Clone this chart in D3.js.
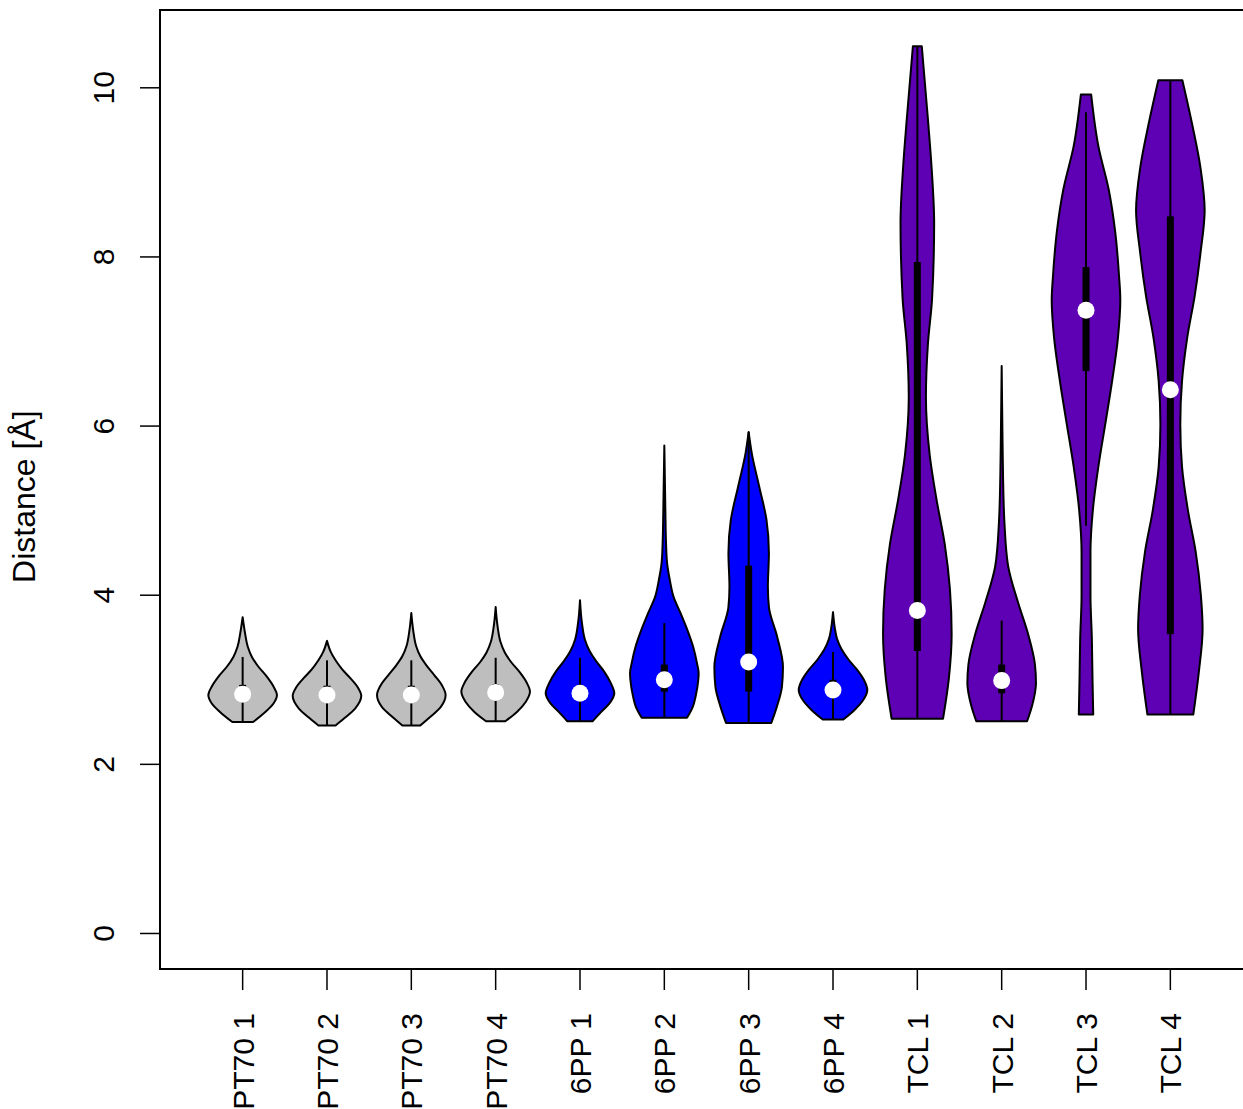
<!DOCTYPE html>
<html>
<head>
<meta charset="utf-8">
<script src="https://cdn.jsdelivr.net/npm/d3@7"></script>
<style>
  body { margin: 0; background: #fff; }
  text { font-family: "Liberation Sans", Arial, sans-serif; fill: #000; }
</style>
</head>
<body>
<div id="chart-area"></div>
<script>
// categories
const labels = ["PT70 1", "PT70 2", "PT70 3", "PT70 4", "6PP 1", "6PP 2", "6PP 3", "6PP 4", "TCL 1", "TCL 2", "TCL 3", "TCL 4"]
const groups = ["PT70", "PT70", "PT70", "PT70", "6PP", "6PP", "6PP", "6PP", "TCL", "TCL", "TCL", "TCL"]
const yTicks = [0, 2, 4, 6, 8, 10]

// density profiles: [distance, relative density]
const pt70_1 = [[2.50, 0.30], [2.62, 0.66], [2.72, 0.90], [2.82, 1.0], [2.92, 0.90], [3.04, 0.70], [3.16, 0.45], [3.27, 0.27], [3.39, 0.15], [3.55, 0.07], [3.74, 0]]
const pt70_2 = [[2.46, 0.25], [2.55, 0.52], [2.66, 0.82], [2.81, 1.0], [2.91, 0.90], [3.02, 0.68], [3.12, 0.45], [3.23, 0.25], [3.33, 0.11], [3.46, 0]]
const pt70_3 = [[2.46, 0.26], [2.56, 0.55], [2.68, 0.86], [2.82, 1.0], [2.93, 0.90], [3.05, 0.68], [3.17, 0.44], [3.28, 0.26], [3.40, 0.14], [3.57, 0.06], [3.79, 0]]
const pt70_4 = [[2.51, 0.28], [2.62, 0.62], [2.74, 0.88], [2.86, 1.0], [2.97, 0.90], [3.09, 0.70], [3.21, 0.45], [3.32, 0.27], [3.45, 0.14], [3.62, 0.06], [3.86, 0]]
const pp6_1 = [[2.51, 0.37], [2.62, 0.62], [2.72, 0.86], [2.84, 1.0], [2.96, 0.90], [3.10, 0.70], [3.22, 0.47], [3.34, 0.28], [3.48, 0.14], [3.66, 0.06], [3.94, 0]]
const pp6_2 = [[2.55, 0.66], [2.68, 0.83], [2.80, 0.91], [3.00, 0.99], [3.08, 1.0], [3.20, 0.95], [3.39, 0.84], [3.59, 0.67], [3.79, 0.47], [3.98, 0.27], [4.18, 0.16], [4.38, 0.08], [4.61, 0.05], [5.00, 0.03], [5.77, 0]]
const pp6_3 = [[2.49, 0.66], [2.68, 0.82], [2.92, 0.97], [3.15, 1.0], [3.51, 0.83], [3.86, 0.59], [4.10, 0.56], [4.50, 0.59], [4.89, 0.52], [5.28, 0.31], [5.68, 0.09], [5.93, 0]]
const pp6_4 = [[2.53, 0.30], [2.64, 0.62], [2.76, 0.88], [2.88, 1.0], [3.00, 0.90], [3.12, 0.70], [3.24, 0.45], [3.36, 0.25], [3.48, 0.12], [3.62, 0.05], [3.80, 0]]
const tcl_1 = [[2.54, 0.75], [3.02, 0.92], [3.54, 1.0], [4.07, 0.95], [4.60, 0.80], [5.13, 0.56], [5.66, 0.36], [6.34, 0.25], [6.98, 0.31], [7.51, 0.43], [8.40, 0.49], [9.09, 0.41], [9.62, 0.31], [10.49, 0.13]]
const tcl_2 = [[2.51, 0.74], [2.70, 0.89], [2.96, 1.0], [3.18, 0.97], [3.54, 0.77], [3.91, 0.48], [4.34, 0.19], [4.86, 0.08], [5.40, 0.04], [6.00, 0.02], [6.71, 0]]
const tcl_3 = [[2.59, 0.21], [2.99, 0.19], [3.49, 0.17], [4.00, 0.13], [4.51, 0.13], [5.01, 0.20], [5.52, 0.36], [6.02, 0.56], [6.53, 0.76], [7.04, 0.93], [7.49, 1.0], [7.79, 0.96], [8.30, 0.85], [8.80, 0.66], [9.31, 0.36], [9.92, 0.15]]
const tcl_4 = [[2.59, 0.67], [3.09, 0.83], [3.60, 0.94], [4.00, 0.89], [4.51, 0.74], [5.01, 0.51], [5.52, 0.34], [6.02, 0.29], [6.53, 0.34], [7.04, 0.49], [7.54, 0.71], [8.05, 0.88], [8.55, 1.0], [9.05, 0.88], [9.56, 0.64], [10.09, 0.35]]
const profiles = [pt70_1, pt70_2, pt70_3, pt70_4, pp6_1, pp6_2, pp6_3, pp6_4, tcl_1, tcl_2, tcl_3, tcl_4]

// box plot statistics
const whiskerLow = [2.50, 2.46, 2.46, 2.51, 2.51, 2.55, 2.49, 2.53, 2.54, 2.51, 4.82, 2.59]
const q1 = [2.75, 2.73, 2.73, 2.76, 2.75, 2.86, 2.86, 2.79, 3.34, 2.84, 6.65, 3.54]
const medians = [2.83, 2.82, 2.82, 2.85, 2.84, 3.00, 3.21, 2.88, 3.82, 2.99, 7.37, 6.43]
const q3 = [2.94, 2.93, 2.93, 2.95, 2.94, 3.18, 4.35, 3.00, 7.94, 3.18, 7.88, 8.48]
const whiskerHigh = [3.27, 3.23, 3.23, 3.26, 3.26, 3.67, 5.93, 3.33, 10.49, 3.70, 9.71, 10.09]

const WIDTH = 1243
const HEIGHT = 1109
const MARGIN = { LEFT: 160, TOP: 10, BOTTOM: 969 }

const svg = d3.select("#chart-area").append("svg")
  .attr("width", WIDTH)
  .attr("height", HEIGHT)

// scales
const x = d3.scaleLinear().domain([0.02, labels.length + 0.98]).range([MARGIN.LEFT, 1253])
const y = d3.scaleLinear().domain([-0.42, 10.92]).range([MARGIN.BOTTOM, MARGIN.TOP])
const w = d3.scaleLinear().domain([0, 1]).range([0, 34.3])
const color = d3.scaleOrdinal().domain(["PT70", "6PP", "TCL"]).range(["#bebebe", "#0000ff", "#5e00b4"])

// violins
const violin = (i) => d3.area()
  .y(d => y(d[0]))
  .x0(d => x(i + 1) - w(d[1]))
  .x1(d => x(i + 1) + w(d[1]))
  .curve(d3.curveMonotoneY)

const g = svg.append("g")

profiles.forEach((p, i) => {
  const cx = x(i + 1)
  g.append("path")
    .attr("d", violin(i)(p))
    .attr("fill", color(groups[i]))
    .attr("stroke", "#000")
    .attr("stroke-width", 2)
    .attr("stroke-linejoin", "round")

  // whisker
  g.append("line")
    .attr("x1", cx).attr("x2", cx)
    .attr("y1", y(whiskerLow[i])).attr("y2", y(whiskerHigh[i]))
    .attr("stroke", "#000")
    .attr("stroke-width", 2)

  // box
  g.append("rect")
    .attr("x", cx - 3.5)
    .attr("width", 7)
    .attr("y", y(q3[i]))
    .attr("height", y(q1[i]) - y(q3[i]))
    .attr("fill", "#000")

  // median
  g.append("circle")
    .attr("cx", cx)
    .attr("cy", y(medians[i]))
    .attr("r", 8.5)
    .attr("fill", "#fff")
})

// y axis
const yAxis = svg.append("g")
  .attr("transform", `translate(${MARGIN.LEFT}, 0)`)
yAxis.append("line")
  .attr("y1", y(0)).attr("y2", y(10))
  .attr("stroke", "#000").attr("stroke-width", 1.5)
yTicks.forEach(t => {
  yAxis.append("line")
    .attr("x1", -20).attr("x2", 0)
    .attr("y1", y(t)).attr("y2", y(t))
    .attr("stroke", "#000").attr("stroke-width", 1.5)
  yAxis.append("text")
    .attr("transform", `translate(-46, ${y(t)}) rotate(-90)`)
    .attr("text-anchor", "middle")
    .style("font-size", "30px")
    .text(t)
})

// y label
svg.append("text")
  .attr("transform", `translate(35, ${(y(0) + y(10)) / 2 - 14}) rotate(-90)`)
  .attr("text-anchor", "middle")
  .style("font-size", "32px")
  .text("Distance [Å]")

// x axis ticks and labels
const xAxis = svg.append("g")
  .attr("transform", `translate(0, ${MARGIN.BOTTOM})`)
labels.forEach((l, i) => {
  xAxis.append("line")
    .attr("x1", x(i + 1)).attr("x2", x(i + 1))
    .attr("y1", 0).attr("y2", 21)
    .attr("stroke", "#000").attr("stroke-width", 1.5)
  xAxis.append("text")
    .attr("transform", `translate(${x(i + 1) + 11}, 44) rotate(-90)`)
    .attr("text-anchor", "end")
    .style("font-size", "30px")
    .text(l)
})

// plot box
svg.append("rect")
  .attr("x", MARGIN.LEFT)
  .attr("y", MARGIN.TOP)
  .attr("width", 1253 - MARGIN.LEFT)
  .attr("height", MARGIN.BOTTOM - MARGIN.TOP)
  .attr("fill", "none")
  .attr("stroke", "#000")
  .attr("stroke-width", 2)
</script>
</body>
</html>
